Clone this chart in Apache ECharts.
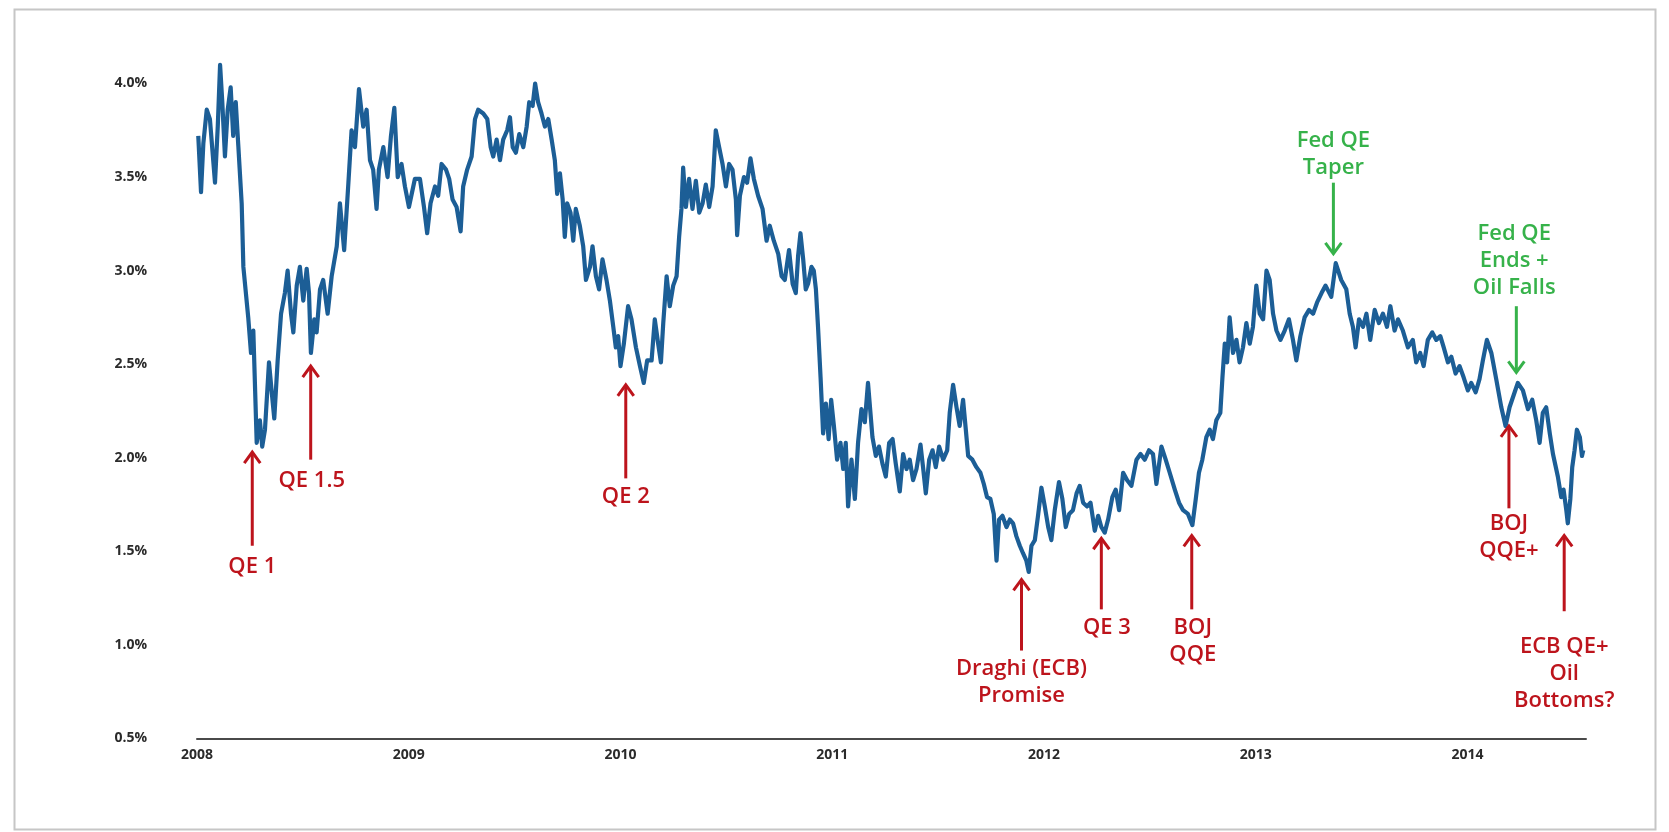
<!DOCTYPE html>
<html><head><meta charset="utf-8">
<script src="https://cdn.jsdelivr.net/npm/echarts/dist/echarts.min.js"></script>
<style>html,body{margin:0;padding:0;background:#fff;}#c{width:1669px;height:832px;}</style>
</head><body><div id="c"></div>
<script>
// Traced series: decimal year and yield (%)
const years = [2008.006,2008.019,2008.030,2008.046,2008.061,2008.085,2008.098,2008.109,2008.119,2008.132,2008.145,2008.159,2008.171,2008.183,2008.195,2008.211,2008.219,2008.242,2008.255,2008.266,2008.282,2008.297,2008.308,2008.321,2008.340,2008.353,2008.365,2008.381,2008.397,2008.415,2008.428,2008.444,2008.455,2008.471,2008.486,2008.502,2008.518,2008.529,2008.538,2008.554,2008.565,2008.581,2008.596,2008.617,2008.636,2008.660,2008.675,2008.695,2008.714,2008.730,2008.746,2008.765,2008.785,2008.801,2008.817,2008.832,2008.848,2008.859,2008.880,2008.900,2008.916,2008.932,2008.948,2008.966,2008.982,2009.001,2009.029,2009.053,2009.072,2009.087,2009.103,2009.124,2009.139,2009.155,2009.176,2009.191,2009.207,2009.226,2009.245,2009.257,2009.276,2009.297,2009.313,2009.328,2009.352,2009.371,2009.387,2009.399,2009.415,2009.431,2009.446,2009.465,2009.478,2009.491,2009.506,2009.522,2009.541,2009.557,2009.569,2009.585,2009.597,2009.611,2009.627,2009.643,2009.659,2009.675,2009.690,2009.701,2009.714,2009.727,2009.737,2009.748,2009.764,2009.777,2009.789,2009.808,2009.824,2009.837,2009.856,2009.868,2009.884,2009.899,2009.915,2009.934,2009.950,2009.966,2009.978,2009.989,2010.000,2010.016,2010.036,2010.052,2010.073,2010.092,2010.110,2010.126,2010.147,2010.162,2010.178,2010.191,2010.202,2010.218,2010.233,2010.249,2010.265,2010.277,2010.288,2010.296,2010.309,2010.324,2010.340,2010.356,2010.372,2010.388,2010.403,2010.419,2010.435,2010.450,2010.466,2010.482,2010.498,2010.513,2010.529,2010.545,2010.551,2010.564,2010.583,2010.598,2010.614,2010.630,2010.650,2010.671,2010.690,2010.705,2010.724,2010.745,2010.761,2010.776,2010.796,2010.813,2010.828,2010.839,2010.850,2010.863,2010.875,2010.886,2010.902,2010.913,2010.923,2010.933,2010.945,2010.957,2010.970,2010.983,2010.995,2011.008,2011.023,2011.039,2011.052,2011.064,2011.075,2011.091,2011.107,2011.122,2011.138,2011.154,2011.169,2011.190,2011.206,2011.221,2011.237,2011.253,2011.269,2011.285,2011.300,2011.319,2011.335,2011.351,2011.366,2011.382,2011.398,2011.417,2011.429,2011.442,2011.458,2011.474,2011.489,2011.505,2011.524,2011.543,2011.555,2011.571,2011.587,2011.602,2011.618,2011.631,2011.642,2011.662,2011.681,2011.700,2011.716,2011.731,2011.747,2011.763,2011.776,2011.788,2011.804,2011.823,2011.839,2011.854,2011.870,2011.886,2011.901,2011.917,2011.928,2011.941,2011.957,2011.972,2011.988,2012.004,2012.020,2012.035,2012.051,2012.071,2012.087,2012.103,2012.119,2012.137,2012.154,2012.169,2012.185,2012.204,2012.220,2012.240,2012.256,2012.271,2012.287,2012.303,2012.323,2012.339,2012.355,2012.374,2012.393,2012.413,2012.437,2012.456,2012.476,2012.496,2012.515,2012.531,2012.555,2012.575,2012.594,2012.618,2012.638,2012.657,2012.680,2012.701,2012.717,2012.732,2012.748,2012.767,2012.783,2012.798,2012.814,2012.833,2012.843,2012.854,2012.865,2012.877,2012.893,2012.909,2012.924,2012.940,2012.956,2012.972,2012.987,2013.003,2013.019,2013.035,2013.051,2013.066,2013.082,2013.098,2013.117,2013.137,2013.157,2013.176,2013.192,2013.211,2013.231,2013.252,2013.271,2013.290,2013.311,2013.330,2013.357,2013.378,2013.404,2013.428,2013.444,2013.459,2013.472,2013.488,2013.507,2013.523,2013.541,2013.562,2013.582,2013.601,2013.620,2013.636,2013.656,2013.672,2013.695,2013.719,2013.742,2013.758,2013.777,2013.793,2013.813,2013.834,2013.853,2013.872,2013.888,2013.908,2013.924,2013.944,2013.963,2013.982,2014.002,2014.018,2014.039,2014.057,2014.073,2014.092,2014.113,2014.136,2014.160,2014.180,2014.199,2014.223,2014.238,2014.262,2014.286,2014.306,2014.325,2014.341,2014.356,2014.372,2014.389,2014.404,2014.427,2014.443,2014.454,2014.467,2014.474,2014.486,2014.495,2014.506,2014.517,2014.531,2014.541,2014.547];
const yields = [3.72,3.42,3.68,3.86,3.81,3.47,3.77,4.10,3.91,3.61,3.86,3.98,3.72,3.90,3.67,3.36,3.02,2.75,2.56,2.68,2.08,2.20,2.06,2.15,2.51,2.35,2.21,2.52,2.77,2.88,3.00,2.77,2.67,2.92,3.02,2.84,3.01,2.88,2.56,2.74,2.67,2.90,2.95,2.77,2.97,3.13,3.36,3.11,3.45,3.75,3.66,3.97,3.77,3.86,3.59,3.54,3.33,3.54,3.66,3.50,3.72,3.87,3.50,3.57,3.45,3.34,3.49,3.49,3.34,3.20,3.36,3.45,3.40,3.57,3.54,3.49,3.38,3.34,3.21,3.45,3.54,3.61,3.81,3.86,3.84,3.81,3.66,3.61,3.70,3.59,3.70,3.75,3.82,3.66,3.63,3.73,3.66,3.77,3.90,3.88,4.00,3.90,3.84,3.77,3.81,3.70,3.59,3.41,3.52,3.38,3.18,3.36,3.31,3.16,3.33,3.24,3.13,2.95,3.02,3.13,2.97,2.90,3.06,2.95,2.84,2.70,2.59,2.65,2.49,2.61,2.81,2.74,2.59,2.49,2.40,2.52,2.52,2.74,2.61,2.51,2.72,2.97,2.81,2.92,2.97,3.18,3.33,3.55,3.34,3.49,3.33,3.48,3.31,3.36,3.46,3.34,3.45,3.75,3.66,3.57,3.45,3.57,3.54,3.38,3.19,3.40,3.50,3.47,3.60,3.49,3.40,3.33,3.16,3.24,3.16,3.09,2.97,2.95,3.11,2.93,2.88,3.08,3.20,3.06,2.90,2.93,3.02,3.00,2.90,2.70,2.43,2.13,2.29,2.10,2.31,2.17,1.99,2.08,1.94,2.08,1.74,1.99,1.78,2.08,2.26,2.19,2.40,2.11,2.01,2.06,1.97,1.90,2.08,2.10,1.97,1.82,2.02,1.94,1.99,1.88,1.94,2.07,1.95,1.81,1.99,2.04,1.95,2.06,1.99,2.04,2.24,2.39,2.27,2.17,2.31,2.15,2.01,1.99,1.95,1.92,1.86,1.79,1.78,1.70,1.45,1.67,1.69,1.63,1.67,1.65,1.58,1.53,1.49,1.45,1.39,1.53,1.56,1.69,1.84,1.74,1.63,1.56,1.72,1.87,1.78,1.63,1.70,1.72,1.81,1.85,1.76,1.74,1.76,1.61,1.69,1.63,1.60,1.67,1.79,1.83,1.72,1.92,1.88,1.85,1.99,2.02,1.99,2.04,2.02,1.86,2.06,1.99,1.92,1.83,1.76,1.72,1.70,1.64,1.78,1.92,1.99,2.11,2.15,2.10,2.20,2.24,2.43,2.61,2.51,2.75,2.56,2.63,2.51,2.59,2.72,2.61,2.70,2.92,2.77,2.74,3.00,2.95,2.77,2.68,2.63,2.68,2.74,2.63,2.52,2.65,2.75,2.79,2.77,2.83,2.88,2.92,2.86,3.04,2.95,2.90,2.77,2.70,2.59,2.74,2.70,2.77,2.63,2.79,2.72,2.77,2.70,2.81,2.68,2.74,2.68,2.59,2.63,2.51,2.56,2.49,2.63,2.67,2.63,2.65,2.59,2.51,2.54,2.45,2.49,2.43,2.36,2.40,2.35,2.42,2.52,2.63,2.56,2.42,2.27,2.17,2.27,2.35,2.40,2.36,2.26,2.31,2.20,2.08,2.24,2.27,2.13,2.02,1.90,1.79,1.83,1.72,1.65,1.78,1.95,2.04,2.15,2.11,2.01,2.04];

// Axis ticks
const yearTicks = [2008, 2009, 2010, 2011, 2012, 2013, 2014];
const yieldTicks = [0.5, 1.0, 1.5, 2.0, 2.5, 3.0, 3.5, 4.0];

// Annotation arrows (year, tail value, tip value, colour kind 0=red 1=green)
const arrowYears = [2008.261, 2008.537, 2010.025, 2011.894, 2012.271, 2012.698, 2014.196, 2014.457, 2013.367, 2014.231];
const arrowFrom  = [1.53, 1.99, 1.89, 0.97, 1.19, 1.19, 1.73, 1.18, 3.47, 2.81];
const arrowTo    = [2.03, 2.49, 2.39, 1.35, 1.57, 1.585, 2.17, 1.585, 3.09, 2.456];
const arrowKinds = [0, 0, 0, 0, 0, 0, 0, 0, 1, 1];

// Annotation labels
const noteTexts  = ['QE 1', 'QE 1.5', 'QE 2', 'Draghi (ECB)\nPromise', 'QE 3', 'BOJ\nQQE', 'BOJ\nQQE+', 'ECB QE+\nOil\nBottoms?', 'Fed QE\nTaper', 'Fed QE\nEnds +\nOil Falls'];
const noteYears  = [2008.261, 2008.542, 2010.025, 2011.894, 2012.297, 2012.703, 2014.196, 2014.457, 2013.367, 2014.221];
const noteValues = [1.417, 1.88, 1.79, 0.80, 1.09, 1.02, 1.578, 0.846, 3.62, 3.053];
const noteKinds  = [0, 0, 0, 0, 0, 0, 0, 0, 1, 1];

const kindColors = ['#bd141c', '#36b24a'];

const chart = echarts.init(document.getElementById('c'));
const lineData = years.map((y, i) => [y, yields[i]]);

function renderArrow(params, api) {
  const x = api.value(0), a = api.value(1), b = api.value(2), k = api.value(3);
  const p1 = api.coord([x, a]), p2 = api.coord([x, b]);
  const dir = p2[1] < p1[1] ? -1 : 1;
  const col = kindColors[k];
  const hw = 8, hh = 11;
  return {
    type: 'group',
    children: [
      { type: 'line', shape: { x1: p1[0], y1: p1[1], x2: p2[0], y2: p2[1] - dir * 1 }, style: { stroke: col, lineWidth: 3 } },
      { type: 'polyline', shape: { points: [[p2[0] - hw, p2[1] - dir * hh], [p2[0], p2[1]], [p2[0] + hw, p2[1] - dir * hh]] },
        style: { stroke: col, lineWidth: 3, fill: null, lineJoin: 'miter' } }
    ]
  };
}

function renderNote(params, api) {
  const i = params.dataIndex;
  const p = api.coord([api.value(0), api.value(1)]);
  return {
    type: 'text', x: p[0], y: p[1],
    style: {
      text: noteTexts[i], fill: kindColors[noteKinds[i]],
      fontSize: 22, fontWeight: 600, fontFamily: '"Open Sans", sans-serif',
      lineHeight: 27, align: 'center', verticalAlign: 'middle'
    }
  };
}

chart.setOption({
  animation: false,
  backgroundColor: '#ffffff',
  graphic: [{
    type: 'rect', left: 12, top: 7, z: -10,
    shape: { width: 1641, height: 820 },
    style: { fill: 'none', stroke: '#c6c6c6', lineWidth: 2 }
  }],
  grid: { left: 197, right: 83, top: 83.5, bottom: 93.5 },
  xAxis: {
    type: 'value', min: yearTicks[0], max: 2014.56, interval: 1,
    axisLine: { show: true, lineStyle: { color: '#4a4a4a', width: 2 } },
    axisTick: { show: false }, splitLine: { show: false },
    axisLabel: {
      showMaxLabel: false, margin: 10, color: '#2b2b2b', fontSize: 14, fontWeight: 'bold',
      fontFamily: '"Open Sans", sans-serif',
      formatter: v => (yearTicks.indexOf(Math.round(v)) >= 0 && Math.abs(v - Math.round(v)) < 1e-6) ? String(Math.round(v)) : ''
    }
  },
  yAxis: {
    type: 'value', min: yieldTicks[0], max: yieldTicks[yieldTicks.length - 1], interval: 0.5,
    axisLine: { show: false }, axisTick: { show: false }, splitLine: { show: false },
    axisLabel: {
      margin: 50, color: '#2b2b2b', fontSize: 14, fontWeight: 'bold',
      fontFamily: '"Open Sans", sans-serif',
      formatter: v => v.toFixed(1) + '%'
    }
  },
  series: [
    {
      type: 'line', data: lineData, showSymbol: false, clip: false, silent: true,
      lineStyle: { color: '#1c5e96', width: 4.2, join: 'round' }, z: 3
    },
    {
      type: 'custom', clip: false, silent: true, z: 4,
      data: arrowYears.map((x, i) => [x, arrowFrom[i], arrowTo[i], arrowKinds[i]]),
      encode: { x: 0, y: [1, 2] },
      renderItem: renderArrow
    },
    {
      type: 'custom', clip: false, silent: true, z: 4,
      data: noteYears.map((x, i) => [x, noteValues[i]]),
      encode: { x: 0, y: 1 },
      renderItem: renderNote
    }
  ]
});
</script>
</body></html>
